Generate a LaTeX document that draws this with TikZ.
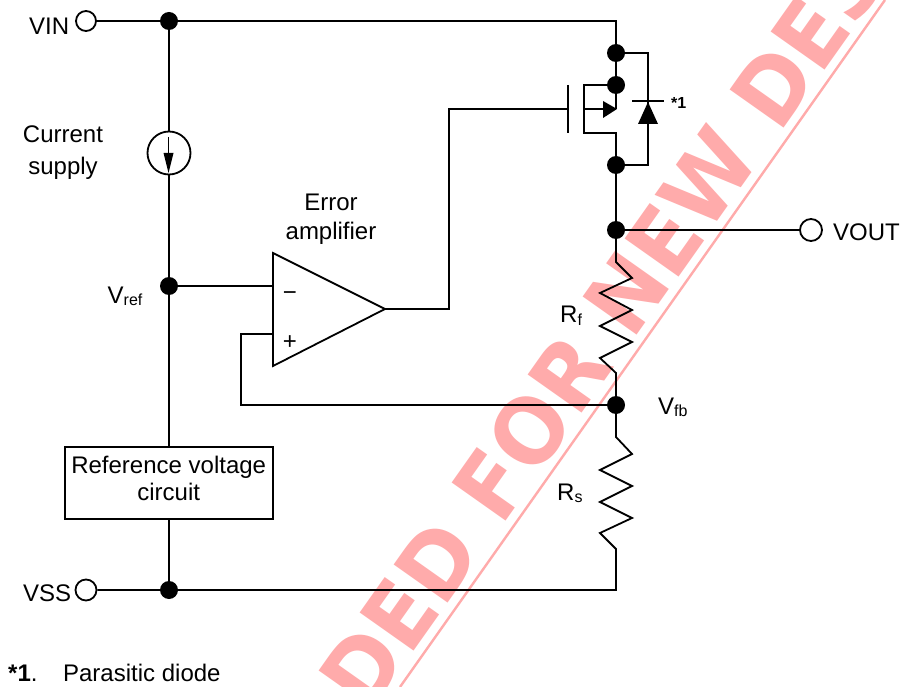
\documentclass[tikz,border=0pt]{standalone}
\usepackage{fontspec}
\setmainfont{Liberation Sans}
\newfontfamily\wmfont[UprightFont=* Bold]{DejaVu Sans}
\tikzset{
  wire/.style={line width=1.8pt,black},
  junction/.style={circle,fill=black,draw=none,minimum size=18pt,inner sep=0pt},
  terminal/.style={circle,draw=black,line width=1.8pt,fill=white,inner sep=0pt},
  lbl/.style={inner sep=0pt,font=\fontsize{24}{28}\selectfont,align=center},
  sublbl/.style={inner sep=0pt,font=\fontsize{24}{28}\selectfont}
}
\newcommand{\subt}[1]{\raisebox{-2pt}{\fontsize{16}{16}\selectfont #1}}
\begin{document}
\begin{tikzpicture}[x=1pt,y=-1pt]
\useasboundingbox (0,0) rectangle (900,687);
\begin{scope}
\clip (0,0) rectangle (900,687);
\fill[white] (0,0) rectangle (900,687);
\node[rotate=54.75,anchor=base west,inner sep=0pt,text=red!33,font=\wmfont\fontsize{85.6}{86}\selectfont] (wm) at (368.8,715.4) {\scalebox{1}[1.058]{DED FOR NEW DES}};
\coordinate (wma) at (400,687);
\coordinate (wmb) at (885,0);
\draw[red!33,line width=2.4pt] (wma) -- (wmb);
\end{scope}
% junctions
\node[terminal,minimum size=20pt] (vin) at (86,21) {};
\node[terminal,minimum size=21pt] (vss) at (86,590) {};
\node[terminal,minimum size=22pt] (vout) at (811,230) {};
\node[junction] (j1) at (169,21) {};
\node[junction] (j2) at (169,286) {};
\node[junction] (j3) at (169,590) {};
\node[junction] (j4) at (616,53) {};
\node[junction] (j5) at (616,85) {};
\node[junction] (j6) at (616,165) {};
\node[junction] (j7) at (616,230) {};
\node[junction] (j8) at (616,405) {};
\node[circle,draw=black,line width=1.8pt,minimum size=43pt,inner sep=0pt] (cs) at (169,153) {};
\node[draw=black,line width=1.8pt,minimum width=208pt,minimum height=72pt,inner sep=0pt] (ref) at (169,483) {};
\node[lbl,font=\fontsize{24}{27}\selectfont] (treft) at (168.7,478) {Reference voltage\\circuit};
\coordinate (a1) at (273,253);
\coordinate (a2) at (273,366);
\coordinate (a3) at (385,309);
\draw[wire,line join=miter] (a1) -- (a2) -- (a3) -- cycle;
% wires
\draw[wire] (vin) -- (j1) -- (616,21) -- (j4) -- (j5);
\draw[wire] (j1) -- (cs);
\draw[wire] (cs) -- (j2) -- (ref);
\draw[wire] (ref) -- (j3);
\draw[wire] (vss) -- (j3) -- (616,590) -- (616,549) -- (600,533) -- (632,518) -- (600,502) -- (632,486) -- (600,470) -- (632,454) -- (616,437) -- (j8);
\draw[wire] (j8) -- (616,373) -- (600,358) -- (632,342) -- (600,326) -- (632,310) -- (600,293) -- (632,278) -- (616,262) -- (j7);
\draw[wire] (j7) -- (vout);
\draw[wire] (j7) -- (j6);
\draw[wire] (j2) -- (273,286);
\draw[wire] (273,334) -- (241,334) -- (241,405) -- (j8);
% current arrow
\draw[wire] (168.5,137) -- (168.5,160);
\fill (163.5,153) -- (173.5,153) -- (168.5,173) -- cycle;
% mosfet
\draw[wire] (a3) -- (449,309) -- (449,109) -- (568,109);
\draw[wire] (568,85) -- (568,133);
\draw[wire] (j5) -- (584,85) -- (584,133) -- (616,133) -- (j6);
\draw[wire] (j5) -- (616,109);
\draw[wire] (584,109) -- (603,109);
\fill (603,101) -- (617,109) -- (603,118) -- cycle;
% diode
\draw[wire] (j4) -- (648,53) -- (648,165) -- (j6);
\fill (648,102) -- (658,124) -- (638,124) -- cycle;
\draw[wire] (632,101) -- (664,101);
% labels
\node[lbl,anchor=base west] (tvin) at (29,34.5) {VIN};
\node[lbl,anchor=base west] (tvss) at (23,601.5) {VSS};
\node[lbl,anchor=base west] (tvout) at (833,241) {VOUT};
\node[lbl,font=\fontsize{24}{32}\selectfont] (tcs) at (63,153) {Current\\supply};
\node[lbl,font=\fontsize{24}{29}\selectfont] (tea) at (331,219) {Error\\amplifier};
\node[sublbl,anchor=base west] (tvref) at (107.5,303) {V\subt{ref}};
\node[sublbl,anchor=base west] (trf) at (560,323) {R\subt{f}};
\node[sublbl,anchor=base west] (tvfb) at (658,414) {V\subt{fb}};
\node[sublbl,anchor=base west] (trs) at (557,500) {R\subt{s}};
\node[inner sep=0pt,font=\fontsize{16}{16}\selectfont\bfseries,anchor=base west] (star) at (671,108.5) {*1};
\node[lbl,anchor=base] (minus) at (290,301) {−};
\node[lbl,anchor=base] (plus) at (290,349) {+};
\node[lbl,anchor=base west] (note) at (8,681) {\textbf{*1}.\hspace{25.6pt}Parasitic diode};
\end{tikzpicture}
\end{document}
